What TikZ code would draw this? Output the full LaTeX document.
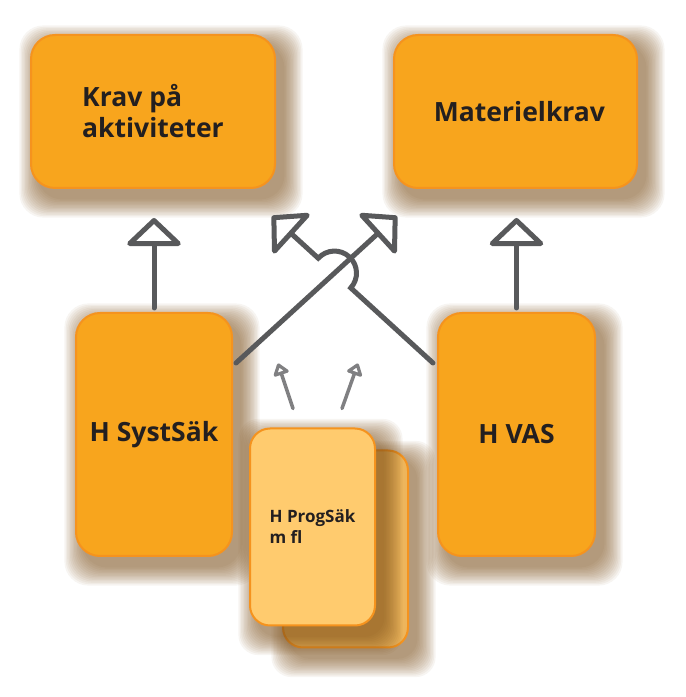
\documentclass[tikz,border=0pt]{standalone}
\usepackage{fontspec}
\setmainfont{Open Sans}
\usetikzlibrary{arrows.meta,calc,intersections}
\definecolor{boxfill}{HTML}{F8A51D}
\definecolor{boxedge}{HTML}{F5931E}
\definecolor{progfill}{HTML}{FFCB6E}
\definecolor{progback}{HTML}{EDB55C}
\definecolor{ink}{HTML}{231F20}
\definecolor{arrowgray}{HTML}{58595B}
\definecolor{smallgray}{HTML}{808082}
\definecolor{shadowbrown}{HTML}{7B4F1A}
\pgfdeclarelayer{shade}
\pgfdeclarelayer{back}
\pgfdeclarelayer{frontshade}
\pgfsetlayers{shade,back,frontshade,main}
% soft brown shadow behind a named box
\newcommand{\softshadow}[2][24pt]{%
  \foreach \s in {1,...,14}
    \fill[shadowbrown,opacity=0.06,rounded corners=#1]
      ($(#2.south west)+(8-1.4*\s,-10-1.4*\s)$) rectangle ($(#2.north east)+(8+1.4*\s,-10+1.4*\s)$);}

\begin{document}
\begin{tikzpicture}[x=1pt,y=1pt,
    box/.style={draw=boxedge,line width=2pt,fill=boxfill,rounded corners=24pt,inner sep=0pt,outer sep=0pt,
      align=left,text=ink,font=\bfseries\fontsize{26.5}{31}\selectfont},
    progbox/.style={box,fill=progfill,rounded corners=20pt,minimum width=125pt,minimum height=197pt,font=\bfseries\fontsize{17}{21}\selectfont},
    bigarrow/.style={draw=arrowgray,line width=5pt,line cap=round,-{Triangle[open,round,length=29pt,width=60pt]}},
    smallarrow/.style={draw=smallgray,line width=3.5pt,line cap=round,-{Triangle[open,round,length=13pt,width=18pt]}}]
  \useasboundingbox (0,0) rectangle (686,697);
  \node[box,minimum width=244pt,minimum height=153pt] (krav) at (153,585.5) {Krav på\\aktiviteter};
  \node[box,minimum width=243pt,minimum height=153pt] (materiel) at (515.5,585.5) {\hspace*{8pt}Materielkrav};
  \node[box,minimum width=156pt,minimum height=243pt] (systsak) at (154,262.5) {H SystSäk};
  \node[box,minimum width=157pt,minimum height=243pt] (vas) at (516.5,262.5) {H VAS};
  \begin{pgfonlayer}{back}
    \node[progbox,fill=progback] (progbak) at (345.5,148) {};
  \end{pgfonlayer}
  \node[progbox] (progfront) at (312.5,170) {H ProgSäk\\m fl};

  \begin{pgfonlayer}{shade}
    \softshadow{krav}
    \softshadow{materiel}
    \softshadow{systsak}
    \softshadow{vas}
    \softshadow[20pt]{progbak}
  \end{pgfonlayer}
  \begin{pgfonlayer}{frontshade}
    \softshadow[20pt]{progfront}
  \end{pgfonlayer}

  \draw[bigarrow,shorten <=5pt,shorten >=30pt] (systsak.north) -- (systsak.north |- krav.south);
  \draw[bigarrow,shorten <=5pt,shorten >=30pt] (vas.north) -- (vas.north |- materiel.south);

  \coordinate (a) at ($(systsak.north east)+(4,-50)$);
  \coordinate (b) at ($(materiel.south west)+(3,-28)$);
  \coordinate (c) at ($(vas.north west)+(-5,-50)$);
  \coordinate (d) at ($(krav.south east)+(-3,-28)$);
  \path[name path=pab] (a) -- (b);
  \path[name path=pcd] (c) -- (d);
  \path[name intersections={of=pab and pcd,by=x}];
  \draw[bigarrow] (a) -- (b);
  \draw[bigarrow] (c) -- ($(x)!22pt!(c)$) arc[start angle=-42.4,end angle=137.6,radius=22pt] -- (d);

  \coordinate (tl) at ($(progfront.north)+(-34.5,65)$);
  \coordinate (tr) at ($(progfront.north)+(45.5,65)$);
  \draw[smallarrow] ($(progfront.north)+(-19.5,20)$) -- (tl);
  \draw[smallarrow] ($(progfront.north)+(29.5,20)$) -- (tr);
\end{tikzpicture}
\end{document}
